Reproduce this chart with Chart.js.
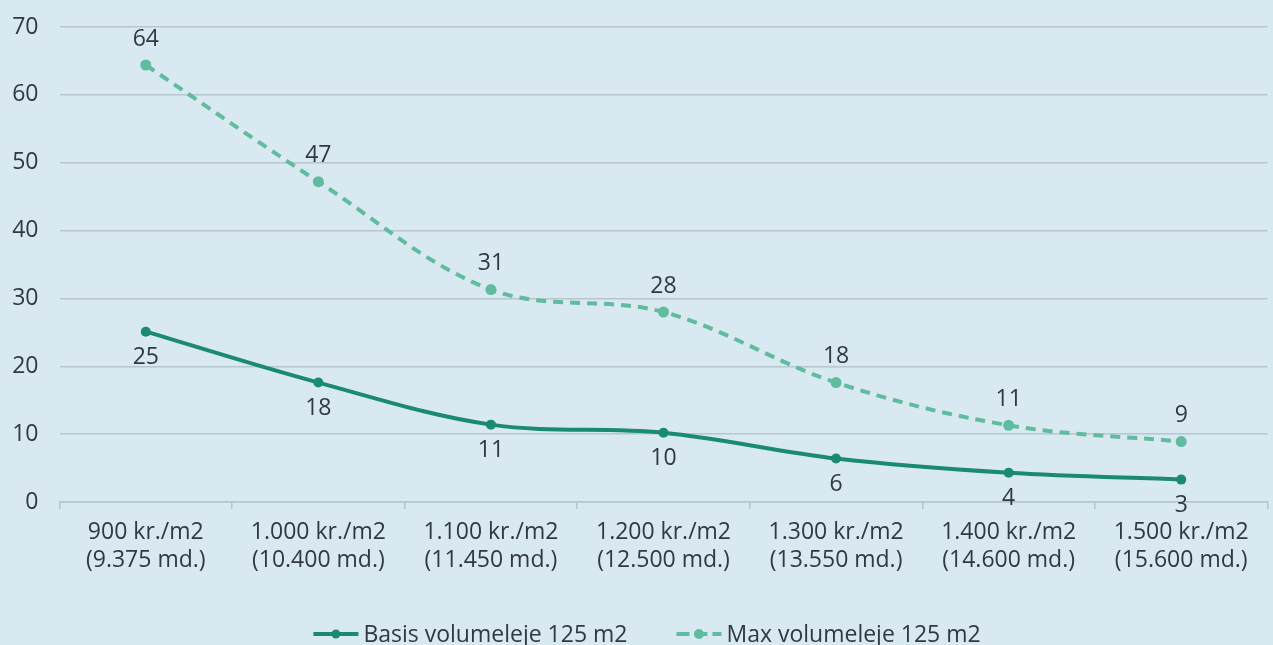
<!DOCTYPE html>
<html><head><meta charset="utf-8">
<script src="https://cdn.jsdelivr.net/npm/chart.js@4.4.1/dist/chart.umd.min.js"></script>
<style>
html,body{margin:0;padding:0;background:#d9e9f1;overflow:hidden}
#wrap{width:1273px;height:645px;position:relative}
</style>
</head><body>
<div id="wrap"><canvas id="c"></canvas></div>
<script>
const categories = [
  ["900 kr./m2", "(9.375 md.)"],
  ["1.000 kr./m2", "(10.400 md.)"],
  ["1.100 kr./m2", "(11.450 md.)"],
  ["1.200 kr./m2", "(12.500 md.)"],
  ["1.300 kr./m2", "(13.550 md.)"],
  ["1.400 kr./m2", "(14.600 md.)"],
  ["1.500 kr./m2", "(15.600 md.)"]
];
const basisValues = [25.1, 17.6, 11.4, 10.2, 6.4, 4.3, 3.3];
const maxValues = [64.4, 47.2, 31.3, 28.0, 17.6, 11.3, 8.9];
const seriesNames = ["Basis volumeleje 125 m2", "Max volumeleje 125 m2"];
const yMin = 0, yMax = 70, yStep = 10;

const TEXT = '#30393f';
const GRID = '#b6c5ce';
const SOLID = '#1a8a73';
const DASHED = '#60bb9f';
const FONT_FAMILY = '"Open Sans", "Noto Sans", sans-serif';
const FS = 23;

const labelPlugin = {
  id: 'valueLabels',
  afterDatasetsDraw(chart) {
    const ctx = chart.ctx;
    ctx.save();
    ctx.font = FS + 'px ' + FONT_FAMILY;
    ctx.fillStyle = TEXT;
    ctx.textAlign = 'center';
    ctx.textBaseline = 'middle';
    chart.data.datasets.forEach((ds, di) => {
      const meta = chart.getDatasetMeta(di);
      meta.data.forEach((el, i) => {
        const off = ds.labelAbove ? -26 : 26;
        ctx.fillText(String(Math.round(ds.data[i])), el.x, el.y + off);
      });
    });
    ctx.restore();
  }
};

const legendPlugin = {
  id: 'customLegend',
  afterDraw(chart) {
    const ctx = chart.ctx;
    ctx.save();
    ctx.font = FS + 'px ' + FONT_FAMILY;
    const symW = 45, gapT = 5, gapItems = 49;
    const items = chart.data.datasets.map(ds => ({ds, w: ctx.measureText(ds.label).width}));
    let total = 0;
    items.forEach((it, i) => { total += symW + gapT + it.w + (i ? gapItems : 0); });
    let x = chart.width * 0.5067 - total / 2 + 2;
    const y = 634;
    items.forEach((it, i) => {
      const ds = it.ds;
      ctx.strokeStyle = ds.borderColor;
      ctx.lineWidth = ds.borderWidth;
      ctx.setLineDash(ds.borderDash ? [13, 5] : []);
      ctx.beginPath();
      ctx.moveTo(x, y); ctx.lineTo(x + symW, y);
      ctx.stroke();
      ctx.setLineDash([]);
      ctx.fillStyle = ds.pointBackgroundColor;
      ctx.beginPath();
      ctx.arc(x + symW / 2, y, ds.pointRadius - 0.5, 0, Math.PI * 2);
      ctx.fill();
      ctx.fillStyle = TEXT;
      ctx.textAlign = 'left';
      ctx.textBaseline = 'middle';
      ctx.fillText(ds.label, x + symW + gapT, y + 1);
      x += symW + gapT + it.w + gapItems;
    });
    ctx.restore();
  }
};

Chart.defaults.font.family = FONT_FAMILY;
Chart.defaults.font.size = FS;
Chart.defaults.color = TEXT;

new Chart(document.getElementById('c'), {
  type: 'line',
  data: {
    labels: categories,
    datasets: [
      {
        label: seriesNames[0],
        data: basisValues,
        borderColor: SOLID,
        backgroundColor: SOLID,
        pointBackgroundColor: SOLID,
        pointBorderColor: SOLID,
        borderWidth: 4,
        pointRadius: 5,
        pointBorderWidth: 0,
        tension: 0.35,
        fill: false,
        labelAbove: false
      },
      {
        label: seriesNames[1],
        data: maxValues,
        borderColor: DASHED,
        backgroundColor: DASHED,
        pointBackgroundColor: DASHED,
        pointBorderColor: DASHED,
        borderWidth: 4,
        borderDash: [10, 7],
        pointRadius: 5.5,
        pointBorderWidth: 0,
        tension: 0.35,
        fill: false,
        labelAbove: true
      }
    ]
  },
  options: {
    responsive: true,
    maintainAspectRatio: false,
    animation: false,
    layout: { padding: { top: 27, left: 0, right: 0, bottom: 0 } },
    plugins: { legend: { display: false }, tooltip: { enabled: false } },
    scales: {
      x: {
        offset: true,
        grid: { offset: true, drawOnChartArea: false, drawTicks: true, tickLength: 7, color: GRID, lineWidth: 1.5 },
        border: { display: true, color: GRID, width: 1.5 },
        ticks: { color: TEXT, font: { size: FS, lineHeight: 1.22 }, padding: 9, maxRotation: 0, autoSkip: false },
        afterFit(s) { s.height = 143; s.paddingLeft = 0; s.paddingRight = 0; }
      },
      y: {
        min: yMin, max: yMax,
        ticks: { stepSize: yStep, color: TEXT, font: { size: FS }, padding: 21 },
        grid: { color: GRID, lineWidth: 1.5, drawTicks: false },
        border: { display: false },
        afterFit(s) { s.width = 59.5; s.paddingTop = 0; s.paddingBottom = 0; }
      }
    }
  },
  plugins: [labelPlugin, legendPlugin]
});
</script>
</body></html>
